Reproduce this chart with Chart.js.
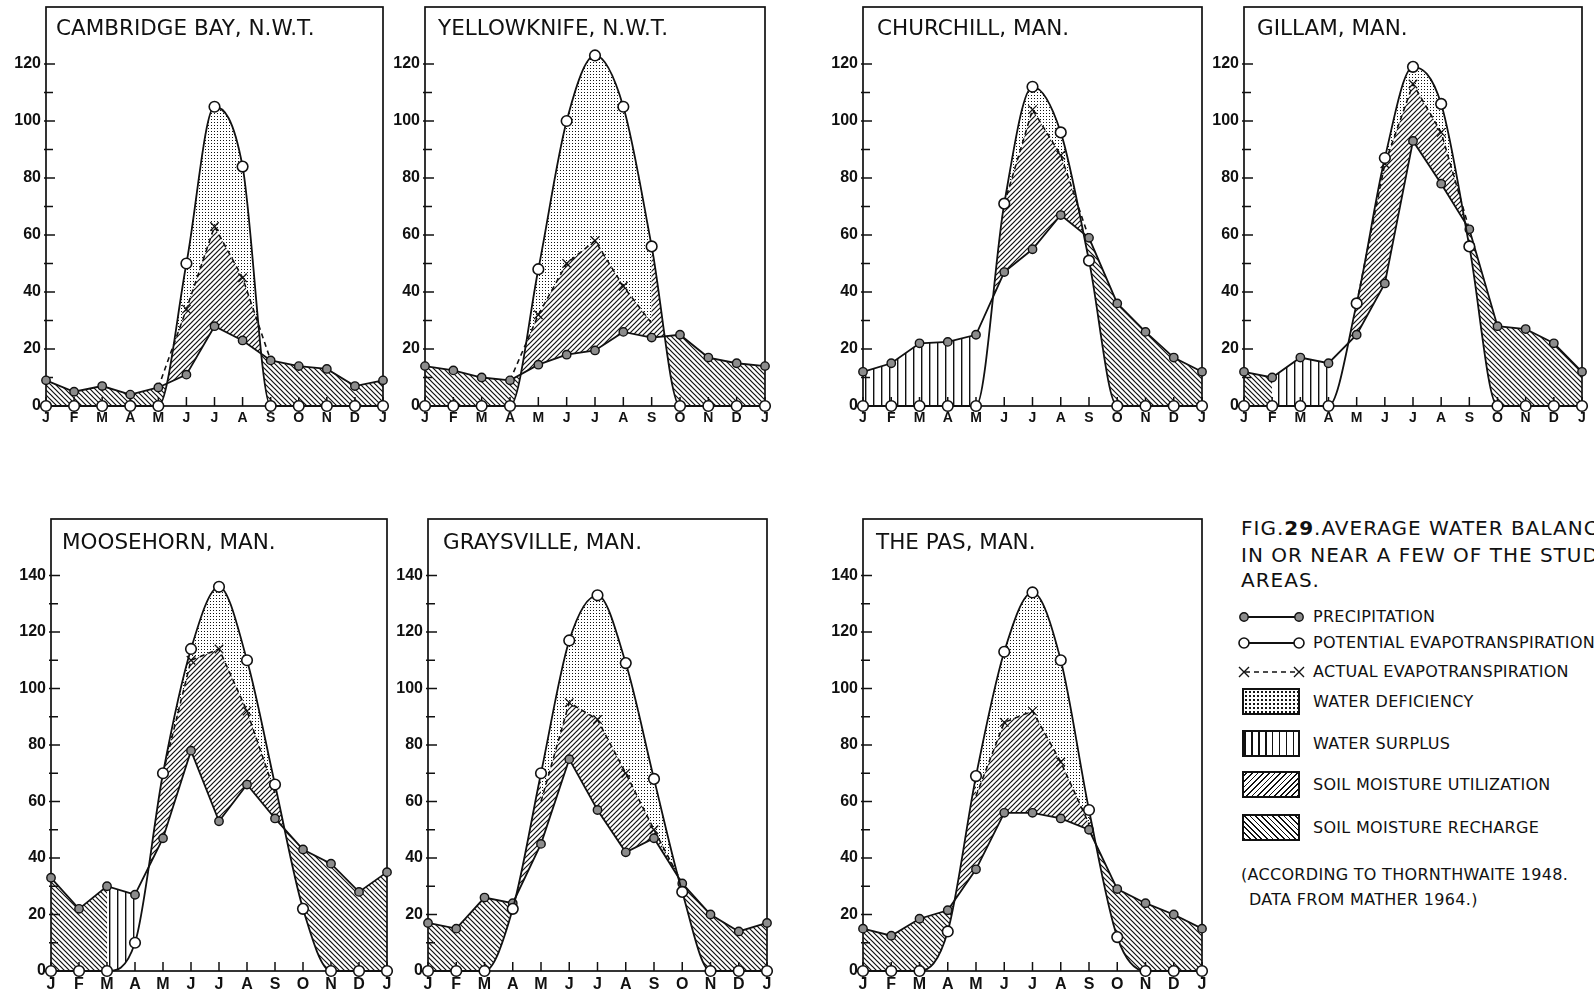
<!DOCTYPE html>
<html>
<head>
<meta charset="utf-8">
<script src="https://cdn.jsdelivr.net/npm/chart.js@4.4.1/dist/chart.umd.min.js"></script>
<style>
  html, body { margin: 0; padding: 0; background: #fff; }
  body { width: 1594px; height: 993px; overflow: hidden; position: relative; font-family: "DejaVu Sans", sans-serif; color: #111; }
  canvas { position: absolute; }
  .cap { position: absolute; left: 1241px; font-size: 20px; line-height: 20px; white-space: nowrap; letter-spacing: 1px; }
  .lg { position: absolute; left: 1313px; font-size: 16px; line-height: 16px; white-space: nowrap; letter-spacing: 0.3px; }
  .sw { position: absolute; left: 1242px; width: 54px; height: 23px; border: 2px solid #111; }
  .smp { position: absolute; left: 1237px; }
  .note { position: absolute; font-size: 16px; line-height: 16px; white-space: nowrap; letter-spacing: 0.3px; }
</style>
</head>
<body>

<div class="cap" style="top:518px">FIG.<b>29</b>.AVERAGE WATER BALANCE</div>
<div class="cap" style="top:545px">IN OR NEAR A FEW OF THE STUDY</div>
<div class="cap" style="top:570px">AREAS.</div>

<svg class="smp" style="top:610px" width="70" height="14">
  <line x1="6" y1="7" x2="62" y2="7" stroke="#111" stroke-width="1.8"/>
  <circle cx="7" cy="7" r="4.2" fill="#8c8c8c" stroke="#111" stroke-width="1.4"/>
  <circle cx="62" cy="7" r="4.2" fill="#8c8c8c" stroke="#111" stroke-width="1.4"/>
</svg>
<div class="lg" style="top:609px">PRECIPITATION</div>

<svg class="smp" style="top:636px" width="70" height="14">
  <line x1="6" y1="7" x2="62" y2="7" stroke="#111" stroke-width="1.8"/>
  <circle cx="7" cy="7" r="5" fill="#fff" stroke="#111" stroke-width="1.6"/>
  <circle cx="62" cy="7" r="5" fill="#fff" stroke="#111" stroke-width="1.6"/>
</svg>
<div class="lg" style="top:635px">POTENTIAL EVAPOTRANSPIRATION</div>

<svg class="smp" style="top:665px" width="70" height="14">
  <line x1="8" y1="7" x2="60" y2="7" stroke="#111" stroke-width="1.6" stroke-dasharray="5 4"/>
  <path d="M2 2 L12 12 M12 2 L2 12 M57 2 L67 12 M67 2 L57 12" stroke="#111" stroke-width="1.4"/>
</svg>
<div class="lg" style="top:664px">ACTUAL EVAPOTRANSPIRATION</div>

<div class="sw" style="top:688px; background-image: radial-gradient(circle, #111 0.7px, transparent 1.1px); background-size: 4px 4px;"></div>
<div class="lg" style="top:694px">WATER DEFICIENCY</div>

<div class="sw" style="top:730px; background-image: repeating-linear-gradient(90deg, #111 0 1.5px, transparent 1.5px 7px);"></div>
<div class="lg" style="top:736px">WATER SURPLUS</div>

<div class="sw" style="top:771px; background-image: repeating-linear-gradient(-45deg, #111 0 1.2px, transparent 1.2px 4px);"></div>
<div class="lg" style="top:777px">SOIL MOISTURE UTILIZATION</div>

<div class="sw" style="top:814px; background-image: repeating-linear-gradient(45deg, #111 0 1.2px, transparent 1.2px 4px);"></div>
<div class="lg" style="top:820px">SOIL MOISTURE RECHARGE</div>

<div class="note" style="left:1241px; top:867px">(ACCORDING TO THORNTHWAITE 1948.</div>
<div class="note" style="left:1249px; top:892px">DATA FROM MATHER 1964.)</div>

<script>
const months = ["J", "F", "M", "A", "M", "J", "J", "A", "S", "O", "N", "D", "J"];
const allMonths = [0, 1, 2, 3, 4, 5, 6, 7, 8, 9, 10, 11, 12];

// tick labels
const topRowTicks = [0, 20, 40, 60, 80, 100, 120];
const bottomRowTicks = [0, 20, 40, 60, 80, 100, 120, 140];

// ---------------- CAMBRIDGE BAY ----------------
const cambridgePE = [0, 0, 0, 0, 0, 50, 105, 84, 0, 0, 0, 0, 0];
const cambridgeP = [9, 5, 7, 4, 6.5, 11, 28, 23, 16, 14, 13, 7, 9];
const cambridgeAE = [null, null, null, null, 6.5, 34, 63, 45, 16, null, null, null, null];
const cambridgeSurplus = [];

// ---------------- YELLOWKNIFE ----------------
const yellowknifePE = [0, 0, 0, 0, 48, 100, 123, 105, 56, 0, 0, 0, 0];
const yellowknifeP = [14, 12.5, 10, 9, 14.5, 18, 19.5, 26, 24, 25, 17, 15, 14];
const yellowknifeAE = [null, null, null, 9, 32, 50, 58, 42, 29, null, null, null, null];
const yellowknifeSurplus = [];

// ---------------- CHURCHILL ----------------
const churchillPE = [0, 0, 0, 0, 0, 71, 112, 96, 51, 0, 0, 0, 0];
const churchillP = [12, 15, 22, 22.5, 25, 47, 55, 67, 59, 36, 26, 17, 12];
const churchillAE = [null, null, null, null, null, 71, 104, 88, 59, null, null, null, null];
const churchillSurplus = [0, 1, 2, 3, 4];
const churchillRecharge = [5, 6, 7, 8, 9, 10, 11, 12];

// ---------------- GILLAM ----------------
const gillamPE = [0, 0, 0, 0, 36, 87, 119, 106, 56, 0, 0, 0, 0];
const gillamP = [12, 10, 17, 15, 25, 43, 93, 78, 62, 28, 27, 22, 12];
const gillamAE = [null, null, null, null, 36, 85, 113, 96, 62, null, null, null, null];
const gillamSurplus = [1, 2, 3];
const gillamRecharge = [0, 1, 5, 6, 7, 8, 9, 10, 11, 12];

// ---------------- MOOSEHORN ----------------
const moosehornPE = [0, 0, 0, 10, 70, 114, 136, 110, 66, 22, 0, 0, 0];
const moosehornP = [33, 22, 30, 27, 47, 78, 53, 66, 54, 43, 38, 28, 35];
const moosehornAE = [null, null, null, null, 70, 110, 114, 92, 63, null, null, null, null];
const moosehornSurplus = [2, 3];
const moosehornRecharge = [0, 1, 2, 5, 6, 7, 8, 9, 10, 11, 12];

// ---------------- GRAYSVILLE ----------------
const graysvillePE = [0, 0, 0, 22, 70, 117, 133, 109, 68, 28, 0, 0, 0];
const graysvilleP = [17, 15, 26, 24, 45, 75, 57, 42, 47, 31, 20, 14, 17];
const graysvilleAE = [null, null, null, null, 60, 95, 89, 70, 50, 31, null, null, null];
const graysvilleSurplus = [];

// ---------------- THE PAS ----------------
const thePasPE = [0, 0, 0, 14, 69, 113, 134, 110, 57, 12, 0, 0, 0];
const thePasP = [15, 12.5, 18.5, 21.5, 36, 56, 56, 54, 50, 29, 24, 20, 15];
const thePasAE = [null, null, null, null, 62, 88, 92, 74, 52, null, null, null, null];
const thePasSurplus = [];


// ---------------- PATTERNS ----------------
function makePattern(kind) {
  const s = kind === "dots" ? 3 : kind === "vert" ? 8 : 5;
  const tile = document.createElement("canvas");
  tile.width = s; tile.height = s;
  const g = tile.getContext("2d");
  g.strokeStyle = "#111";
  g.fillStyle = "#111";
  g.lineWidth = 1.2;
  if (kind === "dots") {
    g.fillStyle = "#fff";
    g.fillRect(0, 0, s, s);
    g.fillStyle = "#111";
    g.fillRect(1, 1, 1, 1);
  } else if (kind === "vert") {
    g.fillRect(0, 0, 1.4, s);
  } else {
    for (const k of [-1, 0, 1]) {
      g.beginPath();
      if (kind === "slash") {
        g.moveTo(-1, s + 1 + k * s);
        g.lineTo(s + 1, -1 + k * s);
      } else {
        g.moveTo(-1, -1 + k * s);
        g.lineTo(s + 1, s + 1 + k * s);
      }
      g.stroke();
    }
  }
  return g.createPattern(tile, "repeat");
}

const dotsFill = makePattern("dots");
const vertFill = makePattern("vert");
const slashFill = makePattern("slash");
const backFill = makePattern("back");
const none = "rgba(0,0,0,0)";

function mask(values, keep) {
  return values.map((v, i) => keep.includes(i) ? v : null);
}

// ---------------- FRAME / TITLES ----------------
const framePlugin = {
  id: "frame",
  beforeDatasetsDraw(chart, args, opts) {
    const { ctx, chartArea: a, scales } = chart;
    ctx.save();
    ctx.strokeStyle = "#111";
    ctx.lineWidth = 1.7;
    ctx.strokeRect(a.left, a.top, a.right - a.left, a.bottom - a.top);
    ctx.lineWidth = 1.5;
    scales.y.ticks.forEach(t => {
      if (t.value <= 0 || t.value > opts.tickTop) return;
      const py = scales.y.getPixelForValue(t.value);
      const len = t.value % 20 === 0 ? 9 : 7;
      ctx.beginPath();
      ctx.moveTo(a.left - 2, py);
      ctx.lineTo(a.left + len, py);
      ctx.stroke();
    });
    scales.x.ticks.forEach((t, i) => {
      const px = scales.x.getPixelForTick(i);
      ctx.beginPath();
      ctx.moveTo(px, a.bottom);
      ctx.lineTo(px, a.bottom - 9);
      ctx.stroke();
    });
    ctx.restore();
  },
  afterDraw(chart, args, opts) {
    const { ctx, chartArea: a } = chart;
    ctx.save();
    ctx.font = '21.5px "DejaVu Sans"';
    ctx.fillStyle = "#111";
    ctx.textBaseline = "alphabetic";
    ctx.fillText(opts.title, a.left + opts.dx, a.top + opts.dy);
    ctx.restore();
  }
};

// ---------------- PANELS ----------------
const panels = [
  { title: "CAMBRIDGE BAY, N.W.T.", pe: cambridgePE, p: cambridgeP, ae: cambridgeAE, surplus: cambridgeSurplus, recharge: allMonths, box: [46, 7, 383, 406], dx: 10, row: 0 },
  { title: "YELLOWKNIFE, N.W.T.", pe: yellowknifePE, p: yellowknifeP, ae: yellowknifeAE, surplus: yellowknifeSurplus, recharge: allMonths, box: [425, 7, 765, 406], dx: 13, row: 0 },
  { title: "CHURCHILL, MAN.", pe: churchillPE, p: churchillP, ae: churchillAE, surplus: churchillSurplus, recharge: churchillRecharge, box: [863, 7, 1202, 406], dx: 14, row: 0 },
  { title: "GILLAM, MAN.", pe: gillamPE, p: gillamP, ae: gillamAE, surplus: gillamSurplus, recharge: gillamRecharge, box: [1244, 7, 1582, 406], dx: 13, row: 0 },
  { title: "MOOSEHORN, MAN.", pe: moosehornPE, p: moosehornP, ae: moosehornAE, surplus: moosehornSurplus, recharge: moosehornRecharge, box: [51, 519, 387, 971], dx: 11, row: 1 },
  { title: "GRAYSVILLE, MAN.", pe: graysvillePE, p: graysvilleP, ae: graysvilleAE, surplus: graysvilleSurplus, recharge: allMonths, box: [428, 519, 767, 971], dx: 15, row: 1 },
  { title: "THE PAS, MAN.", pe: thePasPE, p: thePasP, ae: thePasAE, surplus: thePasSurplus, recharge: allMonths, box: [863, 519, 1202, 971], dx: 13, row: 1 }
];

function makeChart(pn) {
  const [L, T, R, B] = pn.box;
  const yAxisW = 46, padTop = 3, padRight = 12, xAxisH = 22;
  const top = pn.row === 0;
  const tickLabels = top ? topRowTicks : bottomRowTicks;

  const c = document.createElement("canvas");
  c.width = yAxisW + (R - L) + padRight;
  c.height = padTop + (B - T) + xAxisH;
  c.style.left = (L - yAxisW) + "px";
  c.style.top = (T - padTop) + "px";
  document.body.appendChild(c);

  const aeFirst = pn.ae.findIndex(v => v !== null);
  let aeLast = -1;
  pn.ae.forEach((v, i) => { if (v !== null) aeLast = i; });

  const tickFont = { family: '"Liberation Sans", Arial, sans-serif', weight: "bold", size: 16 };

  return new Chart(c, {
    type: "line",
    data: {
      labels: months,
      datasets: [
        { // potential evapotranspiration
          data: pn.pe, borderColor: "#111", borderWidth: 1.8, cubicInterpolationMode: "monotone",
          pointRadius: 5.3, pointBackgroundColor: "#fff", pointBorderColor: "#111", pointBorderWidth: 1.6,
          fill: false, clip: 14
        },
        { // precipitation
          data: pn.p, borderColor: "#111", borderWidth: 1.8, tension: 0,
          pointRadius: 4.2, pointBackgroundColor: "#8c8c8c", pointBorderColor: "#111", pointBorderWidth: 1.4,
          fill: false, clip: 14
        },
        { // actual evapotranspiration
          data: pn.ae, borderColor: "#111", borderWidth: 1.6, borderDash: [5, 4], tension: 0,
          pointStyle: "crossRot", pointBorderColor: "#111", pointBorderWidth: 1.3,
          pointRadius: ctx => (ctx.dataIndex === aeFirst || ctx.dataIndex === aeLast) ? 0 : 6,
          fill: false, clip: 14
        },
        { // water deficiency: between AE and PE
          data: pn.ae, borderWidth: 0, borderColor: none, pointRadius: 0, tension: 0,
          fill: { target: 0, below: dotsFill, above: none }
        },
        { // soil moisture utilization: PE above P
          data: pn.pe, borderWidth: 0, borderColor: none, pointRadius: 0, cubicInterpolationMode: "monotone",
          fill: { target: 1, above: slashFill, below: none }
        },
        { // soil moisture recharge: P above PE
          data: mask(pn.p, pn.recharge), borderWidth: 0, borderColor: none, pointRadius: 0, tension: 0,
          fill: { target: 0, above: backFill, below: none }
        },
        { // water surplus: P above PE, soil full
          data: mask(pn.p, pn.surplus), borderWidth: 0, borderColor: none, pointRadius: 0, tension: 0,
          fill: { target: 0, above: vertFill, below: none }
        }
      ]
    },
    options: {
      responsive: false,
      animation: false,
      devicePixelRatio: 1,
      layout: { autoPadding: false, padding: { top: padTop, right: padRight, left: 0, bottom: 0 } },
      plugins: {
        legend: { display: false },
        tooltip: { enabled: false },
        frame: { title: pn.title, dx: pn.dx, dy: top ? 28 : 30, tickTop: top ? 120 : 140 }
      },
      scales: {
        x: {
          type: "category",
          offset: false,
          grid: { display: false, drawTicks: false },
          border: { display: false },
          ticks: {
            autoSkip: false, maxRotation: 0, padding: top ? 4 : 4, color: "#111",
            font: { family: '"Liberation Sans", Arial, sans-serif', weight: "bold", size: top ? 14 : 16 }
          },
          afterFit: s => { s.height = xAxisH; s.paddingLeft = 0; s.paddingRight = 0; }
        },
        y: {
          min: 0,
          max: top ? 140 : 160,
          grid: { display: false, drawTicks: false },
          border: { display: false },
          ticks: {
            stepSize: 10, autoSkip: false, padding: 5, color: "#111", font: tickFont,
            callback: v => tickLabels.includes(v) ? String(v) : ""
          },
          afterFit: s => { s.width = yAxisW; s.paddingTop = 0; s.paddingBottom = 0; }
        }
      }
    },
    plugins: [framePlugin]
  });
}

panels.forEach(makeChart);
</script>
</body>
</html>
